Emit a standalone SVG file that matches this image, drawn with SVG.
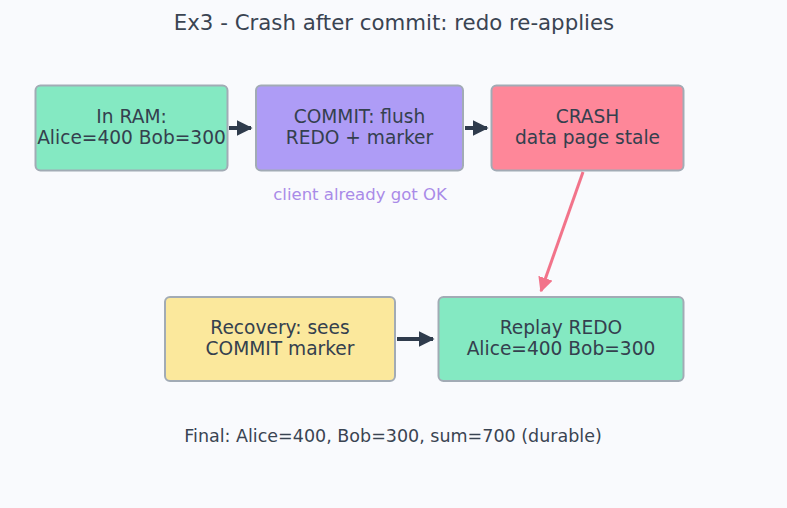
<svg xmlns="http://www.w3.org/2000/svg" width="787" height="508" viewBox="0 0 787 508">
<style>
.n{stroke:#a2abb5;stroke-width:2}
.t{font-family:"DejaVu Sans",sans-serif;font-size:18.6px;fill:#34404e;text-anchor:middle}
.e{stroke:#2f3b4c;stroke-width:4;fill:none}
</style>
<defs>
<marker id="ad" viewBox="0 0 10 10" refX="9" refY="5" markerWidth="4" markerHeight="4" markerUnits="strokeWidth" orient="auto"><path d="M0,0L10,5L0,10z" fill="#2f3b4c"/></marker>
<marker id="ar" viewBox="0 0 10 10" refX="9" refY="5" markerWidth="5" markerHeight="5" markerUnits="strokeWidth" orient="auto"><path d="M0,0L10,5L0,10z" fill="#f2738a"/></marker>
</defs>
<rect width="787" height="508" fill="#f9fafd"/>
<text x="394" y="30" font-family="DejaVu Sans,sans-serif" font-size="21.3" fill="#3a4452" text-anchor="middle">Ex3 - Crash after commit: redo re-applies</text>
<g id="n1"><rect class="n" x="35.5" y="85.5" width="192" height="85" rx="5" fill="#84e9c2"/><text class="t" x="131.5" y="123">In RAM:</text><text class="t" x="131.5" y="144">Alice=400 Bob=300</text></g>
<g id="n2"><rect class="n" x="256" y="85.5" width="207" height="85" rx="5" fill="#ae9cf6"/><text class="t" x="359.5" y="123">COMMIT: flush</text><text class="t" x="359.5" y="144">REDO + marker</text></g>
<g id="n3"><rect class="n" x="491.5" y="85.5" width="192" height="85" rx="5" fill="#fe8799"/><text class="t" x="587.5" y="123">CRASH</text><text class="t" x="587.5" y="144">data page stale</text></g>
<g id="n4"><rect class="n" x="165" y="297" width="230" height="84" rx="5" fill="#fbe89c"/><text class="t" x="280" y="334">Recovery: sees</text><text class="t" x="280" y="355">COMMIT marker</text></g>
<g id="n5"><rect class="n" x="438.5" y="297" width="245" height="84" rx="5" fill="#84e9c2"/><text class="t" x="561" y="334">Replay REDO</text><text class="t" x="561" y="355">Alice=400 Bob=300</text></g>
<g id="edges">
<line class="e" x1="229" y1="128" x2="251" y2="128" marker-end="url(#ad)"/>
<line class="e" x1="465" y1="128" x2="487" y2="128" marker-end="url(#ad)"/>
<line class="e" x1="397" y1="339" x2="433" y2="339" marker-end="url(#ad)"/>
<line x1="583" y1="172" x2="541" y2="291" stroke="#f2738a" stroke-width="3" marker-end="url(#ar)"/>
</g>
<text x="360" y="200" font-family="DejaVu Sans,sans-serif" font-size="16.5" fill="#a98be8" text-anchor="middle">client already got OK</text>
<text x="393" y="442" font-family="DejaVu Sans,sans-serif" font-size="17.5" fill="#3a4452" text-anchor="middle">Final: Alice=400, Bob=300, sum=700 (durable)</text>
</svg>
